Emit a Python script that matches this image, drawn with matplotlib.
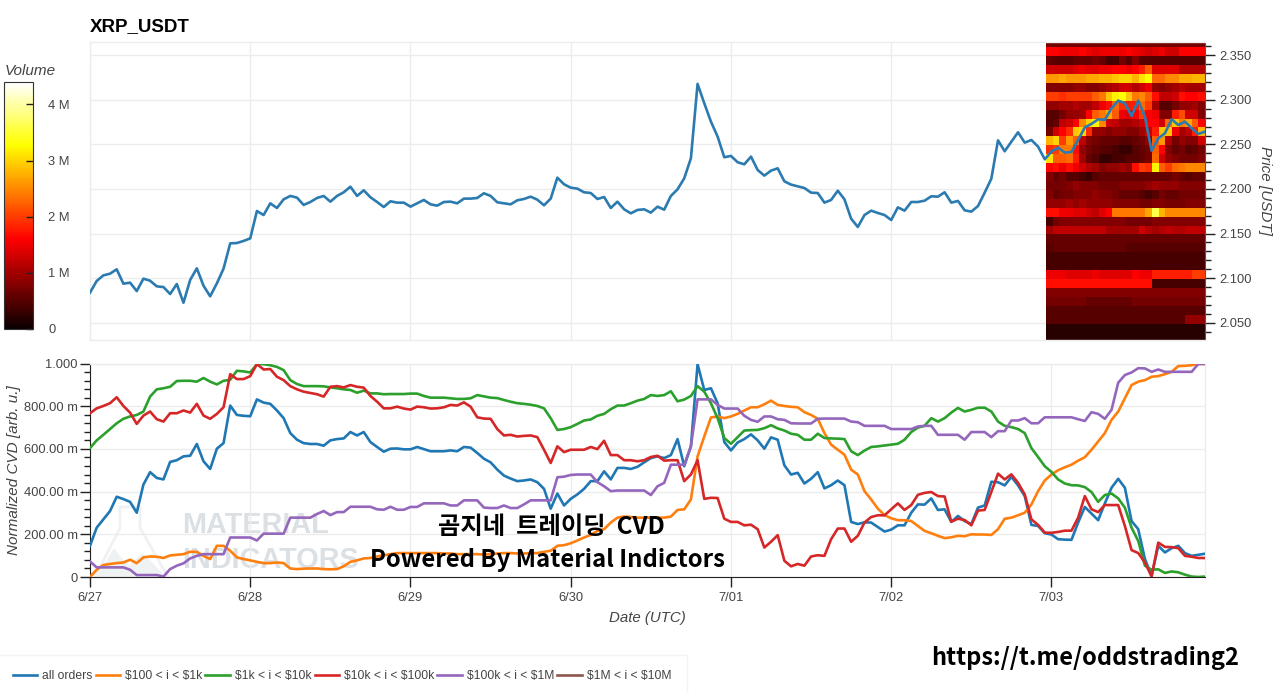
# -*- coding: utf-8 -*-

import numpy as np
import matplotlib
matplotlib.use("Agg")
import matplotlib.pyplot as plt
from matplotlib.patches import Polygon
from matplotlib.ticker import FixedLocator, MultipleLocator

plt.rcParams['font.family'] = ['Liberation Sans', 'DejaVu Sans']

# hourly samples, hour 0 = 6/27 00:00 UTC
price = [2.0837, 2.0968, 2.1031, 2.105, 2.1099, 2.0938, 2.0949, 2.0855, 2.0994, 2.0971, 2.0908, 2.09,
         2.0822, 2.0934, 2.0724, 2.0979, 2.111, 2.0915, 2.0796, 2.0941, 2.1106, 2.139, 2.1394, 2.1417,
         2.1446, 2.1753, 2.1708, 2.1839, 2.1787, 2.1884, 2.1922, 2.1903, 2.1821, 2.1854, 2.1899, 2.1922,
         2.1858, 2.1922, 2.1963, 2.2026, 2.1922, 2.1985, 2.1907, 2.1854, 2.1798, 2.1862, 2.1847, 2.1847,
         2.1802, 2.1839, 2.1877, 2.1828, 2.1813, 2.1854, 2.1858, 2.1839, 2.1892, 2.1892, 2.1899, 2.1952,
         2.1922, 2.1851, 2.1839, 2.1828, 2.1873, 2.1888, 2.1914, 2.188, 2.1817, 2.1892, 2.2127, 2.2053,
         2.2015, 2.2004, 2.1963, 2.1955, 2.1888, 2.191, 2.1787, 2.1858, 2.1772, 2.1727, 2.1765, 2.1772,
         2.1735, 2.1802, 2.1768, 2.1922, 2.1996, 2.212, 2.2344, 2.3179, 2.2962, 2.2756, 2.2588, 2.2356,
         2.2371, 2.23, 2.2277, 2.2363, 2.2213, 2.215, 2.2206, 2.2232, 2.2086, 2.2049, 2.203, 2.2011,
         2.1959, 2.1955, 2.1847, 2.1877, 2.1981, 2.1884, 2.1667, 2.1574, 2.1708, 2.1757, 2.1731, 2.1708,
         2.1652, 2.1794, 2.1757, 2.1854, 2.1854, 2.1869, 2.1918, 2.1914, 2.1963, 2.1847, 2.1866, 2.1761,
         2.1746, 2.1809, 2.1959, 2.2116, 2.2546, 2.2423, 2.2531, 2.2636, 2.252, 2.255, 2.2475, 2.2333,
         2.2419, 2.2464, 2.2408, 2.2415, 2.255, 2.2692, 2.273, 2.2782, 2.2775, 2.2906, 2.2992, 2.2962,
         2.2819, 2.2992, 2.2812, 2.243, 2.2569, 2.2625, 2.2782, 2.2718, 2.2756, 2.2681, 2.2617, 2.2644]

all_orders = [.146, .231, .270, .309, .376, .365, .352, .301, .433, .491, .464, .457, .539, .547, .565, .568,
              .623, .542, .506, .601, .627, .803, .759, .755, .753, .832, .817, .811, .780, .744, .674, .643,
              .627, .623, .623, .615, .640, .646, .649, .679, .663, .679, .632, .609, .587, .601, .602, .598,
              .598, .609, .599, .589, .589, .589, .593, .589, .609, .606, .581, .554, .537, .503, .475, .461,
              .449, .452, .457, .444, .413, .320, .391, .335, .366, .387, .413, .449, .449, .495, .457, .511,
              .511, .506, .516, .537, .557, .565, .557, .571, .646, .519, .612, .997, .876, .884, .814, .632,
              .593, .630, .646, .668, .640, .601, .654, .643, .523, .480, .488, .438, .460, .491, .415, .430,
              .452, .430, .258, .248, .256, .255, .234, .213, .222, .242, .242, .301, .340, .339, .368, .314,
              .317, .258, .286, .262, .248, .325, .335, .446, .444, .429, .469, .429, .379, .244, .239, .205,
              .199, .177, .175, .174, .255, .328, .297, .266, .345, .418, .460, .418, .262, .224, .084, .006,
              .146, .115, .135, .146, .112, .099, .104, .109]

usd_100_1k = [0, .034, .056, .061, .065, .068, .081, .065, .092, .096, .095, .089, .101, .104, .107, .118,
              .118, .099, .084, .146, .146, .123, .092, .084, .078, .071, .065, .065, .068, .065, .040, .037,
              .039, .040, .040, .037, .036, .037, .050, .071, .078, .087, .089, .096, .102, .107, .112, .112,
              .112, .112, .112, .112, .112, .110, .110, .107, .107, .107, .107, .105, .107, .110, .112, .112,
              .110, .110, .112, .112, .118, .123, .146, .149, .158, .171, .185, .197, .216, .224, .255, .278,
              .283, .281, .278, .278, .278, .278, .278, .283, .314, .317, .363, .565, .658, .747, .752, .744,
              .752, .764, .780, .795, .795, .809, .826, .806, .801, .797, .795, .772, .759, .741, .674, .620,
              .596, .573, .503, .480, .402, .363, .320, .290, .275, .266, .266, .262, .239, .216, .205, .193,
              .182, .186, .193, .191, .200, .199, .199, .197, .224, .273, .278, .289, .301, .340, .402, .452,
              .480, .500, .514, .526, .545, .561, .596, .635, .674, .736, .775, .837, .899, .915, .922, .938,
              .941, .950, .961, .988, .989, .992, .998, .998]

usd_1k_10k = [.604, .640, .666, .693, .720, .741, .752, .759, .775, .845, .879, .884, .891, .918, .919, .919,
              .915, .932, .915, .902, .919, .924, .966, .963, .958, .997, .997, .992, .984, .969, .922, .904,
              .894, .894, .894, .893, .888, .884, .879, .876, .863, .873, .860, .860, .856, .857, .857, .857,
              .859, .859, .848, .840, .840, .840, .837, .834, .834, .837, .852, .846, .840, .838, .829, .821,
              .814, .811, .807, .801, .790, .744, .689, .693, .702, .717, .733, .738, .755, .764, .786, .803,
              .803, .814, .826, .834, .852, .848, .852, .870, .823, .831, .848, .894, .868, .814, .744, .651,
              .624, .655, .686, .688, .689, .697, .711, .696, .686, .671, .666, .643, .643, .671, .651, .649,
              .648, .646, .589, .571, .592, .609, .612, .616, .620, .624, .643, .679, .700, .708, .744, .728,
              .744, .770, .792, .775, .783, .793, .793, .775, .728, .708, .702, .693, .674, .604, .562, .519,
              .492, .457, .438, .430, .429, .421, .398, .352, .384, .391, .368, .325, .231, .169, .053, .034,
              .036, .019, .026, .022, .011, .002, 0, .002]

usd_10k_100k = [.767, .790, .801, .814, .842, .801, .770, .717, .756, .775, .739, .728, .767, .767, .780, .770,
                .811, .756, .741, .764, .795, .950, .927, .927, .941, .997, .972, .974, .938, .922, .894, .879,
                .868, .862, .856, .845, .891, .894, .888, .899, .891, .887, .848, .821, .790, .790, .798, .789,
                .784, .798, .795, .789, .790, .795, .806, .803, .818, .798, .748, .742, .741, .693, .663, .666,
                .658, .661, .663, .655, .596, .534, .612, .585, .596, .596, .596, .609, .599, .638, .571, .571,
                .547, .547, .542, .547, .562, .568, .545, .547, .547, .449, .480, .547, .366, .371, .370, .273,
                .258, .258, .242, .245, .224, .138, .165, .196, .076, .050, .061, .053, .096, .102, .099, .177,
                .227, .227, .165, .193, .255, .281, .289, .289, .317, .345, .314, .337, .385, .394, .398, .379,
                .377, .259, .273, .267, .242, .311, .314, .399, .484, .457, .481, .441, .387, .270, .244, .208,
                .207, .211, .217, .217, .278, .379, .317, .304, .337, .337, .337, .239, .126, .112, .068, .002,
                .161, .141, .140, .135, .099, .095, .089, .089]

usd_100k_1m = [.073, .045, .045, .045, .045, .045, .034, .009, .009, .009, .009, .002, .037, .053, .064, .087,
               .099, .107, .107, .107, .107, .185, .185, .185, .185, .171, .203, .203, .203, .203, .278, .278,
               .278, .278, .295, .309, .290, .304, .304, .329, .329, .329, .329, .317, .315, .329, .315, .315,
               .328, .328, .345, .345, .345, .345, .335, .335, .359, .359, .359, .325, .323, .323, .335, .323,
               .323, .340, .359, .359, .359, .359, .467, .470, .478, .480, .480, .480, .444, .425, .402, .405,
               .405, .405, .405, .405, .384, .425, .441, .526, .526, .526, .612, .832, .832, .832, .806, .789,
               .789, .789, .755, .736, .727, .752, .752, .739, .736, .720, .719, .719, .719, .741, .742, .742,
               .742, .742, .728, .725, .708, .708, .708, .708, .693, .693, .693, .693, .705, .708, .708, .666,
               .666, .666, .666, .643, .679, .679, .679, .655, .683, .683, .733, .733, .744, .720, .720, .748,
               .748, .748, .748, .748, .739, .731, .772, .764, .741, .783, .910, .946, .958, .978, .977, .961,
               .972, .961, .961, .961, .961, .961, .998, .998]

series_names = ["all orders", "\\$100 < i < \\$1k", "\\$1k < i < \\$10k", "\\$10k < i < \\$100k",
                "\\$100k < i < \\$1M", "\\$1M < i < \\$10M"]
series_values = [all_orders, usd_100_1k, usd_1k_10k, usd_10k_100k, usd_100k_1m, []]
series_colors = ["#1f77b4", "#ff7f0e", "#2ca02c", "#d62728", "#9467bd", "#8c564b"]

day_hours = [0, 24, 48, 72, 96, 120, 144]
day_labels = ["6/27", "6/28", "6/29", "6/30", "7/01", "7/02", "7/03"]

price_ticks = [2.05, 2.10, 2.15, 2.20, 2.25, 2.30, 2.35]
price_labels = ["2.050", "2.100", "2.150", "2.200", "2.250", "2.300", "2.350"]
cvd_ticks = [0, 0.2, 0.4, 0.6, 0.8, 1.0]
cvd_labels = ["0", "200.00 m", "400.00 m", "600.00 m", "800.00 m", "1.000"]
vol_ticks = [0, 1, 2, 3, 4]
vol_labels = ["0", "1 M", "2 M", "3 M", "4 M"]

# volume profile, in millions: one row per price bin, top bin first, one column per hour
heat_edges_price = np.arange(2.029, 2.3695, 0.01)
heat_edges_hour = np.linspace(143.2, 167, 25)
heat_volume = [
    [.7, .7, .7, .7, .7, .7, .7, .7, .7, .7, .7, .7, .7, .7, .7, .7, .7, .7, .7, .7, .7, .7, .7, .7],
    [1.6, 1.6, 1.5, 1.5, 1.5, 1.6, 1.5, 1.4, 1.5, 1.5, 1.5, 1.5, 1.6, 1.5, 1.4, 1.3, 1.4, 1.5, 1.3, 1.3, 1.6, 1.6, 1.6, 1.6],
    [.6, .5, .5, .5, .6, .6, .6, .7, .6, .4, .4, .7, .5, .8, .5, .5, .5, .5, .5, .5, .5, .5, .5, .5],
    [1.3, 1.3, 1.3, 1.3, 1.4, 1.5, 1.4, 1.4, 1.5, 1.5, 1.6, 1.6, 1.5, 1.6, 1.8, 2.2, 1.4, 1.4, 1.4, 1.4, 1.1, 1.1, 1.1, 1.1],
    [2.6, 2.6, 2.7, 2.6, 2.6, 2.6, 2.7, 2.7, 2.8, 2.8, 2.9, 3.0, 3.0, 2.8, 3.1, 3.3, 2.3, 2.3, 2.5, 2.5, 2.7, 2.7, 2.8, 2.8],
    [.8, .8, .8, .8, .9, .9, .8, .8, .9, 1.0, 1.1, 1.3, 1.3, 1.1, 1.3, 1.5, .9, .8, .9, 1.0, 1.1, 1.0, 1.0, 1.0],
    [2.0, 2.0, 1.9, 2.0, 2.0, 2.0, 2.0, 2.2, 2.4, 2.9, 3.2, 3.3, 2.9, 2.4, 2.5, 2.2, 1.7, 1.2, 1.2, 1.3, 1.7, 1.6, 1.6, 1.7],
    [.9, .9, 1.0, 1.0, 1.1, 1.0, 1.0, 1.2, 1.5, 1.7, 2.3, 1.9, 1.8, 1.8, 2.3, 2.0, 1.0, .5, .5, .7, .9, .9, 1.0, .8],
    [.5, .5, .7, .9, .9, 1.0, 1.6, 2.2, 2.4, 2.7, 2.2, 1.5, 1.4, 1.6, 2.0, 1.6, 1.5, .8, .8, 1.8, 2.1, 1.3, 1.3, .8],
    [.5, .6, 1.2, 1.3, 1.6, 2.5, 3.0, 3.2, 2.5, 1.3, 1.2, 1.0, 1.0, 1.1, 1.3, 1.6, 1.6, 1.3, 2.3, 2.9, 2.4, 2.7, 2.2, 1.6],
    [.7, 1.3, 1.6, 1.9, 2.9, 3.0, 1.9, .9, .9, .8, .9, .9, .8, .8, 1.0, 1.3, 1.8, 2.9, 2.9, 1.5, 1.0, 1.2, 1.8, 2.8],
    [2.8, 3.0, 2.0, 2.6, 2.2, 1.2, .8, .7, .6, .6, .6, .5, .5, .6, .7, .9, 2.2, 2.6, 1.1, .7, .9, .8, .8, 1.3],
    [1.9, 2.0, 2.4, 2.4, 1.7, .9, .7, .6, .5, .5, .4, .3, .3, .5, .6, .7, 2.2, 1.6, .8, .6, .7, .5, .6, .7],
    [3.1, 2.2, 2.2, 2.3, 1.8, 1.0, .6, .5, .3, .3, .4, .4, .5, .5, .6, .7, 2.3, 1.3, .9, .8, .7, .7, .7, .8],
    [1.6, 1.7, 1.5, 1.7, 1.5, 1.3, 1.1, 1.0, .8, .9, .9, 1.0, .9, 1.7, 2.0, 1.9, 3.2, 2.2, 2.0, 2.3, 2.4, 2.5, 2.5, 2.5],
    [.8, .6, .7, .5, .5, .4, .3, .5, .6, .6, .6, .6, .6, .6, .6, .6, .6, .6, .6, .7, .6, .5, .6, .6],
    [.7, .7, .7, .8, .9, .8, .8, .8, .7, .7, .7, .8, .8, .8, .8, .9, 1.0, .9, .9, .9, .8, .8, .8, .8],
    [.8, .6, .7, .7, .8, .8, .8, .9, .8, .8, .7, .6, .6, .6, .5, .4, .5, .7, .6, .6, .7, .7, .7, .7],
    [.9, .9, .9, 1.0, .9, 1.0, .9, .9, .9, .9, .8, .8, .8, .8, .7, .7, .8, .8, .7, .7, .7, .8, .8, .8],
    [1.7, 1.7, 1.5, 1.5, 1.4, 1.4, 1.3, 1.2, 1.4, 1.6, 2.4, 2.4, 2.4, 2.4, 2.4, 2.7, 3.6, 2.8, 2.5, 2.5, 2.5, 2.5, 2.5, 2.5],
    [.4, .7, .8, .8, .8, .8, .8, .8, .8, .8, .8, .8, .7, .7, .7, .7, .8, .8, .8, .8, .8, .8, .8, .8],
    [1.0, 1.2, 1.2, 1.2, 1.2, 1.2, 1.2, 1.2, 1.2, 1.0, 1.0, 1.0, 1.0, 1.0, 1.3, 1.1, 1.0, 1.1, 1.2, 1.1, 1.1, 1.2, 1.2, 1.2],
    [.6, .6, .6, .6, .6, .6, .6, .6, .6, .6, .6, .6, .6, .6, .6, .6, .6, .6, .6, .6, .6, .6, .6, .6],
    [.5, .6, .6, .6, .6, .6, .6, .6, .6, .6, .6, .6, .5, .5, .5, .5, .5, .5, .5, .5, .5, .5, .5, .5],
    [.4, .4, .4, .4, .4, .4, .4, .4, .4, .4, .4, .4, .4, .4, .4, .4, .4, .4, .4, .4, .4, .4, .4, .4],
    [.4, .4, .4, .4, .4, .4, .4, .4, .4, .4, .4, .4, .4, .4, .4, .4, .4, .4, .4, .4, .4, .4, .4, .4],
    [1.5, 1.5, 1.5, 1.4, 1.4, 1.4, 1.4, 1.5, 1.4, 1.4, 1.4, 1.4, 1.4, 1.6, 1.5, 1.5, 1.8, 1.8, 1.8, 1.8, 1.8, 1.8, 2.0, 2.0],
    [1.7, 1.7, 1.7, 1.7, 1.7, 1.7, 1.7, 1.7, 1.7, 1.7, 1.7, 1.7, 1.7, 1.7, 1.7, 1.7, .4, .4, .4, .4, .4, .4, .4, .4],
    [.8, .8, .8, .8, .8, .8, .8, .8, .8, .8, .8, .8, .8, .8, .8, .8, .8, .8, .8, .8, .8, .8, .8, .8],
    [.7, .7, .7, .7, .7, .7, .6, .6, .6, .6, .6, .6, .6, .7, .7, .7, .7, .7, .7, .7, .7, .7, .7, .7],
    [.5, .5, .5, .5, .5, .5, .5, .5, .5, .5, .5, .5, .5, .5, .5, .5, .5, .5, .5, .5, .5, .5, .5, .5],
    [.5, .5, .5, .5, .5, .5, .5, .5, .5, .5, .5, .5, .5, .5, .5, .5, .5, .5, .5, .5, .5, .9, .9, .9],
    [.2, .2, .2, .2, .2, .2, .2, .2, .2, .2, .2, .2, .2, .2, .2, .2, .2, .2, .2, .2, .2, .2, .2, .2],
    [.2, .2, .2, .2, .2, .2, .2, .2, .2, .2, .2, .2, .2, .2, .2, .2, .2, .2, .2, .2, .2, .2, .2, .2],
]

W, H = 1280, 693
GREY = "#444444"
GRID = "#ececec"


def box(left, top, right, bottom):
    return [left / W, 1 - bottom / H, (right - left) / W, (bottom - top) / H]


def ftext(x, y, s, **kw):
    return fig.text(x / W, 1 - y / H, s, **kw)


fig = plt.figure(figsize=(12.8, 6.93), dpi=100)
ax1 = fig.add_axes(box(90, 42, 1205, 340))
ax2 = fig.add_axes(box(90, 363.5, 1205, 577))
cax = fig.add_axes(box(4, 82, 33, 329))

# price panel
mesh = ax1.pcolormesh(heat_edges_hour, heat_edges_price, np.array(heat_volume)[::-1],
                      cmap="hot", vmin=0, vmax=4.4, zorder=2)
ax1.plot(np.arange(len(price)), price, color="#2b7bb0", lw=1.9, zorder=3)
ax1.set_xlim(0, 167)
ax1.set_ylim(2.0306, 2.3649)
ax1.set_xticks(day_hours)
ax1.set_yticks(price_ticks)
ax1.set_yticklabels(price_labels)
ax1.yaxis.set_minor_locator(MultipleLocator(0.01))
ax1.yaxis.tick_right()
ax1.yaxis.set_label_position("right")
ax1.set_ylabel("Price [USDT]", rotation=270, style="italic", color=GREY, fontsize=11, labelpad=15)
ax1.tick_params(axis="x", length=0, labelbottom=False)
ax1.tick_params(axis="y", which="major", length=7, width=1, colors="#222222", labelcolor=GREY, labelsize=9.3, pad=3)
ax1.tick_params(axis="y", which="minor", length=4, width=1, color="#222222")
ax1.grid(True, color=GRID, lw=1.0, zorder=0)
ax1.set_axisbelow(True)
for side in ["top", "left", "bottom"]:
    ax1.spines[side].set_color(GRID)
    ax1.spines[side].set_linewidth(1.0)
ax1.spines["right"].set_color("#555555")
ftext(90, 27, "XRP_USDT", fontsize=13.5, fontweight="bold", color="black", va="center")

# volume colour bar
cb = fig.colorbar(mesh, cax=cax)
cb.set_ticks(vol_ticks)
cb.set_ticklabels(vol_labels)
cb.ax.tick_params(direction="in", length=5, width=1, color="#222222", labelcolor=GREY, labelsize=9.3, pad=11)
cb.outline.set_edgecolor("#333333")
ftext(5, 71, "Volume", fontsize=11, style="italic", color=GREY, va="center")

# CVD panel
for name, vals, col in zip(series_names, series_values, series_colors):
    ax2.plot(np.arange(len(vals)), vals, color=col, lw=1.9, label=name, zorder=3,
             solid_joinstyle="round", clip_on=True)
ax2.set_xlim(0, 167)
ax2.set_ylim(0, 1.0)
ax2.set_xticks(day_hours)
ax2.set_xticklabels(day_labels)
ax2.set_yticks(cvd_ticks)
ax2.set_yticklabels(cvd_labels)
ax2.yaxis.set_minor_locator(FixedLocator(np.arange(0, 1.001, 0.04)))
ax2.tick_params(axis="both", which="major", length=7, width=1, colors="#222222", labelcolor=GREY, labelsize=9.3)
ax2.tick_params(axis="y", which="major", pad=2)
ax2.tick_params(axis="y", which="minor", length=4, width=1, color="#222222")
ax2.grid(True, color=GRID, lw=1.0, zorder=0)
ax2.set_axisbelow(True)
ax2.set_xlabel("Date (UTC)", style="italic", color=GREY, fontsize=10.8, labelpad=5)
ax2.set_ylabel("Normalized CVD [arb. u.]", style="italic", color=GREY, fontsize=11, labelpad=2)
for side in ["top", "right"]:
    ax2.spines[side].set_color(GRID)
    ax2.spines[side].set_linewidth(1.0)
ax2.spines["left"].set_color("#222222")
ax2.spines["bottom"].set_color("#222222")

# watermark
flask = [(120, 507), (140, 507), (140, 528), (168, 577), (95, 577), (120, 528)]
hills = [(97, 577), (114, 548), (128, 566), (143, 553), (166, 577)]
for pts, fc, ec in [(flask, "none", "#eff1f3"), (hills, "#eef2f3", "none")]:
    fig.add_artist(Polygon([(x / W, 1 - y / H) for x, y in pts], closed=True, transform=fig.transFigure,
                           facecolor=fc, edgecolor=ec, lw=2, zorder=1))
ax2.patch.set_alpha(0)
ax2.set_zorder(2)
ftext(182, 525, "MATERIAL", fontsize=20.8, fontweight="bold", color="#dbe0e4", va="center", zorder=1)
ftext(182, 560, "INDICATORS", fontsize=20.8, fontweight="bold", color="#dbe0e4", va="center", zorder=1)

# overlay captions
cjk = ['Noto Sans CJK KR', 'DejaVu Sans']
ftext(551, 527, "곰지네  트레이딩  CVD", family=cjk, fontsize=17.5, fontweight="bold", color="black",
      ha="center", va="center", zorder=5)
ftext(547.5, 559.5, "Powered By Material Indictors", family=cjk, fontsize=17.2, fontweight="bold", color="black",
      ha="center", va="center", zorder=5)
ftext(1085.5, 658, "https://t.me/oddstrading2", family=cjk, fontsize=17, fontweight="bold", color="black",
      ha="center", va="center", zorder=5)

# legend strip
handles, labels = ax2.get_legend_handles_labels()
leg = fig.legend(handles, labels, ncol=6, loc="lower left", bbox_to_anchor=(-0.002, -0.006),
                 fontsize=8.7, frameon=True, fancybox=False, edgecolor="#f0f0f0", labelcolor=GREY,
                 handlelength=2.0, handletextpad=0.45, columnspacing=0.25, borderpad=1.25, borderaxespad=0)

fig.savefig("out.png", dpi=100)
